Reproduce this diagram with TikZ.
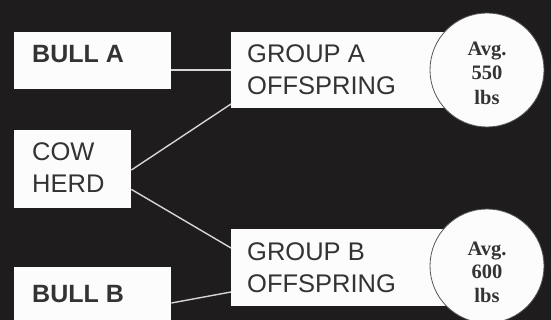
\documentclass[tikz,border=0pt]{standalone}
\usepackage{fontspec}
\setmainfont{Liberation Sans}
\newfontfamily\serifbold{Liberation Serif}
\definecolor{bgc}{HTML}{1E1C1D}
\definecolor{boxc}{HTML}{FCFCFC}
\definecolor{txtc}{HTML}{333333}
\definecolor{linec}{HTML}{D6D6D6}
\definecolor{ringc}{HTML}{555555}
\begin{document}
\begin{tikzpicture}[x=1pt,y=-1pt,
  boxnode/.style={fill=boxc, draw=none, inner sep=0pt, anchor=north west},
  lbl/.style={anchor=base west, inner sep=0pt, text=txtc, font=\fontsize{25.5}{30}\selectfont},
  lblb/.style={lbl, font=\fontsize{25}{30}\selectfont\bfseries},
  avg/.style={circle, fill=boxc, draw=ringc, line width=0.8pt, minimum size=114pt, inner sep=0pt},
  avgt/.style={anchor=base, inner sep=0pt, text=txtc, font=\serifbold\fontsize{20.5}{24}\selectfont\bfseries},
  conn/.style={draw=linec, line width=1.4pt}]
\fill[bgc] (0,0) rectangle (551,320);
\useasboundingbox (0,0) rectangle (551,320);
% boxes
\node[boxnode, minimum width=157pt, minimum height=57pt] (bullA) at (14,32) {};
\node[boxnode, minimum width=117pt, minimum height=78pt] (cow) at (14,130) {};
\node[boxnode, minimum width=157pt, minimum height=60pt] (bullB) at (14,267) {};
\node[boxnode, minimum width=240pt, minimum height=76pt] (grpA) at (231,32) {};
\node[boxnode, minimum width=240pt, minimum height=77pt] (grpB) at (231,229) {};
% circles
\node[avg] (avgA) at (487,70) {};
\node[avg] (avgB) at (487,266) {};
% connectors
\draw[conn] ([yshift=-38pt]bullA.north east) -- ([yshift=-38pt]grpA.north west);
\draw[conn] ([yshift=-40pt]cow.north east) -- ([yshift=-72pt]grpA.north west);
\draw[conn] ([yshift=19pt]cow.south east) -- ([yshift=-19pt]grpB.north west);
\draw[conn] ([yshift=-36pt]bullB.north east) -- ([yshift=-63pt]grpB.north west);
% labels
\node[lblb] (tBullA) at (32,63) {BULL A};
\node[lblb] (tBullB) at (32,302) {BULL B};
\node[lbl] (tCow1) at (32,161) {COW};
\node[lbl] (tCow2) at (32,193) {HERD};
\node[lbl] (tGA1) at (247,63) {GROUP A};
\node[lbl] (tGA2) at (247,95) {OFFSPRING};
\node[lbl] (tGB1) at (247,260) {GROUP B};
\node[lbl] (tGB2) at (247,292) {OFFSPRING};
\node[avgt] (aA1) at (487,56) {Avg.};
\node[avgt] (aA2) at (487,80) {550};
\node[avgt] (aA3) at (487,105) {lbs};
\node[avgt] (aB1) at (487,255) {Avg.};
\node[avgt] (aB2) at (487,278) {600};
\node[avgt] (aB3) at (487,302) {lbs};
\end{tikzpicture}
\end{document}
